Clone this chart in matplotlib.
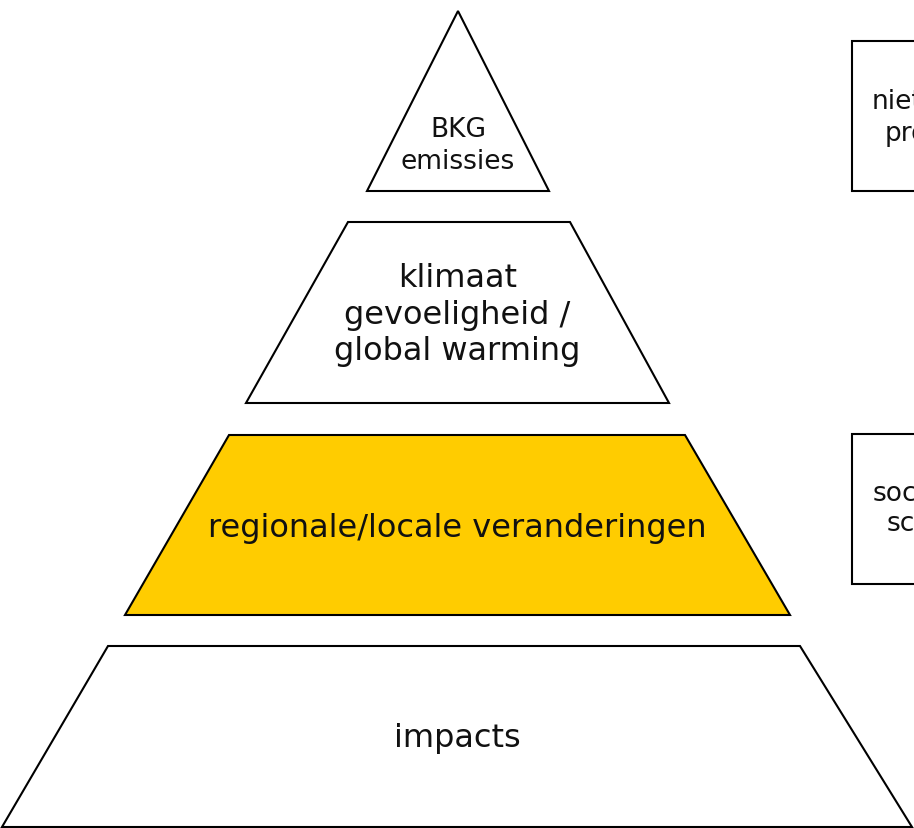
import matplotlib
matplotlib.use("Agg")
import matplotlib.pyplot as plt
from matplotlib.patches import Polygon, Rectangle

# pyramid levels, top to bottom (pixel space of the original diagram)
labels = ["BKG\nemissies", "klimaat\ngevoeligheid /\nglobal warming",
          "regionale/locale veranderingen", "impacts"]
fills = ["white", "white", "#FFCC00", "white"]
font_sizes = [19, 23, 23, 23]
line_spacing = [1.31, 1.23, 1.2, 1.2]
top_y = [12, 223, 436, 647]
bottom_y = [192, 404, 616, 828]
top_left = [458, 348, 229, 108]
top_right = [458, 570, 685, 800]
bottom_left = [367, 246, 125, 2]
bottom_right = [549, 669, 790, 912]
label_y = [146, 315, 528, 738]

# side boxes, cut off by the right edge
side_lines = [["niet-klimaat", "processen"], ["sociaal-economische", "scenario's"]]
side_line_x = [[872, 885], [873, 887]]
side_line_y = [[102, 134], [494, 524]]
side_top = [42, 435]
side_bottom = [192, 585]
side_left = 852

fig = plt.figure(figsize=(9.14, 8.29), dpi=100)
ax = fig.add_axes([0, 0, 1, 1])
ax.set_xlim(0, 914)
ax.set_ylim(829, 0)
ax.axis("off")

for i, lab in enumerate(labels):
    pts = [(bottom_left[i], bottom_y[i]), (top_left[i], top_y[i]),
           (top_right[i], top_y[i]), (bottom_right[i], bottom_y[i])]
    ax.add_patch(Polygon(pts, closed=True, facecolor=fills[i],
                         edgecolor="black", lw=1.5, joinstyle="miter"))
    cx = (bottom_left[i] + bottom_right[i]) / 2
    ax.text(cx, label_y[i], lab, ha="center", va="center",
            fontsize=font_sizes[i], color="#111111",
            linespacing=line_spacing[i])

for i, lines in enumerate(side_lines):
    ax.add_patch(Rectangle((side_left, side_top[i]), 200,
                           side_bottom[i] - side_top[i],
                           facecolor="white", edgecolor="black", lw=1.5))
    for j, line in enumerate(lines):
        ax.text(side_line_x[i][j], side_line_y[i][j], line, ha="left",
                va="center", fontsize=19, color="#111111")

plt.savefig("out.png", dpi=100)
plt.close()
